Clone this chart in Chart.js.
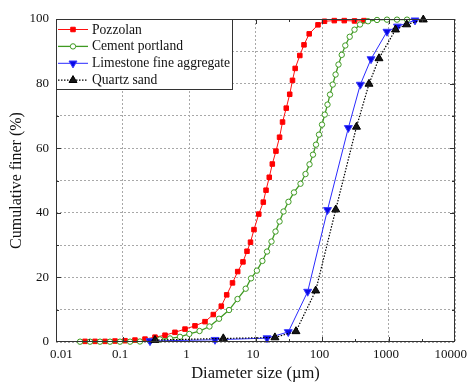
<!DOCTYPE html>
<html>
<head>
<meta charset="utf-8">
<title>Particle size distribution</title>
<script src="https://cdn.jsdelivr.net/npm/chart.js@4.4.0/dist/chart.umd.min.js"></script>
<style>
  html, body { margin: 0; padding: 0; background: #ffffff; }
  #wrap { width: 467px; height: 382px; }
</style>
</head>
<body>
<div id="wrap"><canvas id="psd" width="467" height="382"></canvas></div>
<script>
// Cumulative particle size distributions (diameter in µm, cumulative finer in %)
const seriesNames = ['Pozzolan', 'Cement portland', 'Limestone fine aggregate', 'Quartz sand'];

const pozzolanSize = [0.0273, 0.0386, 0.0546, 0.0771, 0.109, 0.154, 0.218, 0.308, 0.436, 0.615,
  0.871, 1.23, 1.74, 2.32, 3.06, 3.69, 4.51, 5.40, 6.48, 7.45, 8.41, 9.49, 11.2, 13.1, 14.4,
  16.1, 17.9, 20.3, 23.0, 25.5, 29.0, 32.7, 36.0, 39.5, 46.4, 53.6, 64.2, 87.1, 109, 153, 216, 308, 428];
const pozzolanFiner = [0.2, 0.2, 0.2, 0.3, 0.4, 0.6, 0.9, 1.5, 2.1, 3.0,
  4.0, 5.0, 6.3, 8.5, 11.1, 14.6, 18.3, 21.8, 24.8, 28.1, 30.9, 34.8, 39.6, 43.3, 47.0,
  51.0, 55.1, 59.1, 63.4, 68.1, 72.4, 76.7, 81.0, 84.7, 88.7, 92.0, 95.4, 98.2, 99.3, 99.5, 99.5, 99.4, 99.5];

const cementSize = [0.0230, 0.0325, 0.0459, 0.0649, 0.0917, 0.130, 0.183, 0.259, 0.366, 0.518,
  0.732, 1.01, 1.44, 2.03, 2.83, 4.00, 5.36, 7.12, 8.56, 10.5, 12.7, 14.9, 17.4, 20.0, 23.0,
  26.4, 31.3, 37.9, 47.5, 56.5, 64.9, 73.2, 81.2, 90.1, 100, 110, 121, 132, 145, 160, 177,
  198, 224, 261, 308, 373, 492, 672, 949, 1342, 1898];
const cementFiner = [0.1, 0.1, 0.1, 0.1, 0.1, 0.1, 0.15, 0.3, 0.8, 1.1,
  1.6, 2.5, 3.4, 4.8, 7.2, 9.9, 13.3, 16.5, 19.7, 22.1, 25.1, 28.0, 31.1, 34.2, 37.3,
  40.4, 43.4, 46.3, 49.0, 52.0, 55.0, 58.0, 61.1, 64.2, 67.3, 70.4, 73.5, 76.6, 79.7, 82.8, 85.9,
  88.9, 91.8, 94.5, 96.7, 98.3, 99.3, 99.7, 99.8, 99.8, 99.8];

const limestoneSize = [0.259, 2.46, 14.9, 31.1, 60.9, 121, 249, 377, 546, 949, 1366, 2502];
const limestoneFiner = [0.3, 0.7, 1.2, 3.1, 15.6, 40.9, 66.3, 79.7, 87.6, 96.1, 97.7, 99.6];

const quartzSize = [0.308, 3.28, 19.6, 40.6, 80.4, 161, 330, 509, 719, 1274, 1879, 3336];
const quartzFiner = [0.6, 1.1, 1.4, 3.3, 15.9, 41.0, 66.6, 79.9, 87.8, 96.7, 98.3, 99.8];

const xTickValues = [0.01, 0.1, 1, 10, 100, 1000, 10000];
const xTickLabels = ['0.01', '0.1', '1', '10', '100', '1000', '10000'];
const yTickValues = [0, 20, 40, 60, 80, 100];

const SERIF = "'Liberation Serif', 'Times New Roman', serif";

function toPoints(xs, ys) {
  return xs.map((x, i) => ({ x: x, y: ys[i] }));
}

// simple marker painter shared by the legend
function paintMarker(ctx, ds, x, y) {
  const r = ds.pointRadius;
  ctx.save();
  ctx.setLineDash([]);
  ctx.lineWidth = ds.pointBorderWidth;
  ctx.fillStyle = ds.pointBackgroundColor;
  ctx.strokeStyle = ds.pointBorderColor;
  ctx.beginPath();
  if (ds.pointStyle === 'rect') {
    const s = r * Math.SQRT1_2;
    ctx.rect(x - s, y - s, 2 * s, 2 * s);
  } else if (ds.pointStyle === 'circle') {
    ctx.arc(x, y, r, 0, Math.PI * 2);
  } else {
    let a = (ds.rotation || 0) * Math.PI / 180;
    ctx.moveTo(x + Math.sin(a) * r, y - Math.cos(a) * r);
    a += 2 * Math.PI / 3;
    ctx.lineTo(x + Math.sin(a) * r, y - Math.cos(a) * r);
    a += 2 * Math.PI / 3;
    ctx.lineTo(x + Math.sin(a) * r, y - Math.cos(a) * r);
    ctx.closePath();
  }
  ctx.fill();
  if (ds.pointBorderWidth > 0) ctx.stroke();
  ctx.restore();
}

// plot frame with inward tick marks, plus the decade labels under the x axis
const framePlugin = {
  id: 'frame',
  afterDatasetsDraw(chart) {
    const { ctx, chartArea: a, scales, width } = chart;
    ctx.save();
    ctx.strokeStyle = '#333333';
    ctx.lineWidth = 1;
    ctx.setLineDash([]);
    ctx.strokeRect(Math.round(a.left) + 0.5, Math.round(a.top) + 0.5,
      Math.round(a.right - a.left) - 1, Math.round(a.bottom - a.top) - 1);
    ctx.beginPath();
    for (let v = 10; v < 100; v += 10) {
      const y = Math.round(scales.y.getPixelForValue(v)) + 0.5;
      const len = (v % 20 === 0) ? 5 : 3;
      ctx.moveTo(a.left, y); ctx.lineTo(a.left + len, y);
      ctx.moveTo(a.right, y); ctx.lineTo(a.right - len, y);
    }
    for (let e = -2; e < 4; e++) {
      const major = Math.pow(10, e + 1);
      const minor = Math.pow(10, e + 0.5);
      [[major, 5], [minor, 3]].forEach(([v, len]) => {
        if (v >= 10000) return;
        const x = Math.round(scales.x.getPixelForValue(v)) + 0.5;
        ctx.moveTo(x, a.bottom); ctx.lineTo(x, a.bottom - len);
        ctx.moveTo(x, a.top); ctx.lineTo(x, a.top + len);
      });
    }
    ctx.stroke();

    // x tick labels, kept inside the canvas at both ends
    ctx.fillStyle = '#111111';
    ctx.font = '13px ' + SERIF;
    ctx.textBaseline = 'top';
    ctx.textAlign = 'left';
    xTickValues.forEach((v, i) => {
      const txt = xTickLabels[i];
      const w = ctx.measureText(txt).width;
      let cx = scales.x.getPixelForValue(v) - 2.5;
      cx = Math.max(cx, a.left - 6 + w / 2);
      cx = Math.min(cx, width - w / 2);
      ctx.fillText(txt, cx - w / 2, a.bottom + 6);
    });
    ctx.restore();
  }
};

// boxed legend inside the upper-left corner of the plot
const boxLegendPlugin = {
  id: 'boxLegend',
  afterDraw(chart) {
    const { ctx, chartArea: a } = chart;
    const x0 = Math.round(a.left), y0 = Math.round(a.top);
    const w = 176, h = 70;
    ctx.save();
    ctx.fillStyle = '#ffffff';
    ctx.fillRect(x0, y0, w, h);
    ctx.strokeStyle = '#333333';
    ctx.lineWidth = 1;
    ctx.strokeRect(x0 + 0.5, y0 + 0.5, w, h);
    ctx.font = '13.6px ' + SERIF;
    ctx.textBaseline = 'middle';
    ctx.textAlign = 'left';
    chart.data.datasets.forEach((ds, i) => {
      const y = y0 + 10.5 + i * 16.9;
      ctx.save();
      ctx.strokeStyle = ds.borderColor;
      ctx.lineWidth = ds.borderWidth;
      ctx.setLineDash(ds.borderDash || []);
      ctx.beginPath();
      ctx.moveTo(x0 + 2, y);
      ctx.lineTo(x0 + 32, y);
      ctx.stroke();
      ctx.restore();
      paintMarker(ctx, ds, x0 + 17, y);
      ctx.fillStyle = '#111111';
      ctx.fillText(ds.label, x0 + 36, y + 0.5);
    });
    ctx.restore();
  }
};

const datasets = [
  {
    label: seriesNames[0],
    data: toPoints(pozzolanSize, pozzolanFiner),
    borderColor: '#ff1010', borderWidth: 1,
    pointStyle: 'rect', pointRadius: 3.2, pointBorderWidth: 1,
    pointBackgroundColor: '#ff0000', pointBorderColor: '#ff0000',
    order: 4
  },
  {
    label: seriesNames[1],
    data: toPoints(cementSize, cementFiner),
    borderColor: '#3f9a22', borderWidth: 1.3,
    pointStyle: 'circle', pointRadius: 2.7, pointBorderWidth: 1,
    pointBackgroundColor: '#ffffff', pointBorderColor: '#3f9a22',
    order: 3
  },
  {
    label: seriesNames[2],
    data: toPoints(limestoneSize, limestoneFiner),
    borderColor: '#2a2aff', borderWidth: 1,
    pointStyle: 'triangle', rotation: 180, pointRadius: 4.6, pointBorderWidth: 1,
    pointBackgroundColor: '#0a0ae6', pointBorderColor: '#3a3aff',
    order: 2
  },
  {
    label: seriesNames[3],
    data: toPoints(quartzSize, quartzFiner),
    borderColor: '#000000', borderWidth: 1.2, borderDash: [1.5, 1.5],
    pointStyle: 'triangle', rotation: 0, pointRadius: 4.6, pointBorderWidth: 1,
    pointBackgroundColor: '#151515', pointBorderColor: '#000000',
    order: 1
  }
].map(d => Object.assign({ showLine: true, tension: 0, clip: false, pointHoverRadius: d.pointRadius }, d));

new Chart(document.getElementById('psd'), {
  type: 'scatter',
  data: { datasets: datasets },
  options: {
    responsive: false,
    animation: false,
    devicePixelRatio: 1,
    layout: { padding: { top: 19, right: 12, bottom: 0, left: 0 } },
    plugins: { legend: { display: false }, tooltip: { enabled: false } },
    scales: {
      x: {
        type: 'logarithmic',
        min: 0.01, max: 10000,
        afterBuildTicks: s => { s.ticks = xTickValues.map(v => ({ value: v })); },
        afterFit: s => { s.height = 40; s.paddingLeft = 0; s.paddingRight = 0; },
        ticks: { display: false, autoSkip: false, maxRotation: 0 },
        grid: { color: '#a8a8a8', lineWidth: 1, drawTicks: false },
        border: { display: false, dash: [2, 2] },
        title: {
          display: true, text: 'Diameter size (µm)', color: '#111111',
          font: { family: SERIF, size: 16.5, lineHeight: 1 },
          padding: { top: 0, bottom: 0 }
        }
      },
      y: {
        min: 0, max: 100,
        afterFit: s => { s.width = 56; },
        ticks: {
          stepSize: 10, padding: 7, color: '#111111',
          font: { family: SERIF, size: 13 },
          callback: v => (yTickValues.includes(v) ? String(v) : '')
        },
        grid: { color: '#a8a8a8', lineWidth: 1, drawTicks: false },
        border: { display: false, dash: [2, 2] },
        title: {
          display: true, text: 'Cumulative finer (%)', color: '#111111',
          font: { family: SERIF, size: 16, lineHeight: 1 },
          padding: { top: 9, bottom: 0 }
        }
      }
    }
  },
  plugins: [framePlugin, boxLegendPlugin]
});
</script>
</body>
</html>
